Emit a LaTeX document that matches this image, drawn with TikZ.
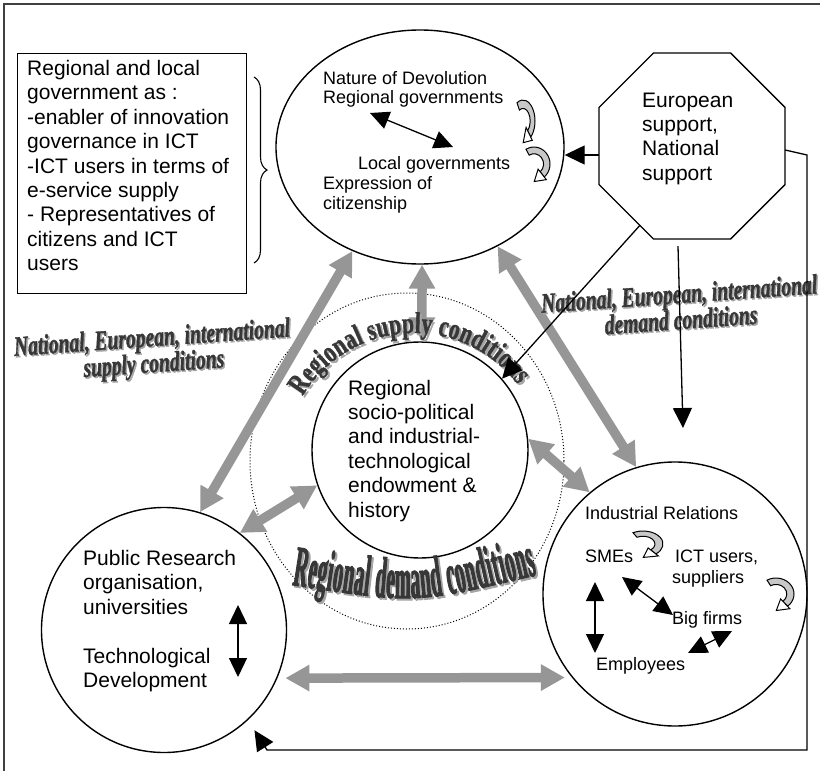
\documentclass[tikz,border=0pt]{standalone}
\usepackage{fontspec}
\setmainfont{Liberation Sans}
\newfontfamily\labelfont[FakeStretch=0.70,FakeBold=1.2]{Liberation Serif}
\newfontfamily\archfont[FakeStretch=0.72,FakeBold=1.2]{Liberation Serif}
\newfontfamily\tallfont[FakeStretch=0.33,FakeBold=1.5]{Liberation Serif}
\usetikzlibrary{arrows.meta,shapes.geometric,decorations.text,decorations.pathreplacing,calc}
\definecolor{flowgray}{RGB}{150,150,150}
\definecolor{curlgray}{RGB}{200,200,200}
\definecolor{artgray}{RGB}{55,55,55}
\definecolor{artshadow}{RGB}{165,165,165}
\newcommand\labelstyle{\labelfont\bfseries\itshape\fontsize{28}{26}\selectfont}
\newcommand\supplystyle{\archfont\bfseries\fontsize{30}{32}\selectfont}
\newcommand\demandstyle{\tallfont\bfseries\fontsize{58}{60}\selectfont}

\tikzset{
  outline/.style={draw, line width=1.4pt, inner sep=0pt},
  bigtxt/.style={inner sep=0pt, anchor=base west, font=\fontsize{21}{24}\selectfont},
  smalltxt/.style={inner sep=0pt, anchor=base west, font=\fontsize{18}{20}\selectfont},
  flow/.style={draw=flowgray, line width=9.5pt,
    {Triangle[length=24pt,width=25pt]}-{Triangle[length=24pt,width=25pt]}},
  link/.style={draw, line width=1.3pt, -{Triangle[length=20pt,width=19pt]}},
  twoway/.style={draw, line width=1.3pt,
    {Triangle[length=19pt,width=18pt]}-{Triangle[length=19pt,width=18pt]}},
  artlabel/.style={rotate=4, align=center, font=\labelstyle, inner sep=0pt},
  curlarrow/.pic={
    \filldraw[fill=curlgray, draw=black, line width=1pt]
      (120:1) arc[start angle=120, end angle=-50, radius=1]
      -- (-50:0.6) arc[start angle=-50, end angle=120, radius=0.6] -- cycle;
    \filldraw[fill=white, draw=black, line width=1pt]
      (0.257,-0.306) -- (0.771,-0.919) -- (0.016,-1.031) -- cycle;
  }
}

\begin{document}
\begin{tikzpicture}[x=1pt, y=1pt]
\useasboundingbox (0,0) rectangle (820,-771);

% page frame (top and left edges)
\draw[line width=1.3pt, black!75] (820,-4) -- (4,-4) -- (4,-771);

% main shapes
\node[draw, ellipse, line width=1pt, dash pattern=on 1pt off 2pt, inner sep=0pt,
      minimum width=314pt, minimum height=336pt] (ring) at (407,-461) {};
\node[outline, minimum width=229pt, minimum height=240pt, anchor=north west] (box) at (17,-53) {};
\node[outline, ellipse, minimum width=288pt, minimum height=234pt] (top) at (420,-147) {};
\node[outline, circle, minimum size=216pt] (mid) at (420,-450) {};
\node[outline, circle, minimum size=245pt] (bl) at (164,-630) {};
\node[outline, circle, minimum size=264pt] (br) at (675,-594) {};

% support octagon: flat sides on all four compass directions
\node[inner sep=0pt, minimum size=186pt] (oct) at (692,-146) {};
\foreach \k in {0,...,7}
  \path (oct.center) ++({22.5+45*\k}:100.66) coordinate (oc\k);
\draw[line width=1.4pt] (oc0) -- (oc1) -- (oc2) -- (oc3) -- (oc4) -- (oc5) -- (oc6) -- (oc7) -- cycle;

% brace next to the text box
\draw[decorate, decoration={brace, amplitude=13pt}, line width=1.1pt] (254,-77) -- (254,-263);

% thick grey interaction arrows
\draw[flow] (top.237) -- (bl.73);
\draw[flow] (top.271) -- (mid.89);
\draw[flow] (top.308) -- (br.107);
\draw[flow] (mid.199) -- (bl.52);
\draw[flow] (mid.6) -- (br.130);
\draw[flow, shorten <=8pt, shorten >=7pt] (bl.337) -- (br.219);

% word-art labels (shadow first)
\node[artlabel, text=artshadow] (suplS) at (154.5,-354) {National, European, international\\supply conditions};
\node[artlabel, text=artgray] (supl) at (153,-352.5) {National, European, international\\supply conditions};
\node[artlabel, text=artshadow] (demlS) at (681.5,-308) {National, European, international\\demand conditions};
\node[artlabel, text=artgray] (deml) at (680,-306.5) {National, European, international\\demand conditions};

\path[decorate, decoration={text along path, text={|\supplystyle|Regional supply conditions},
      text align={fit to path}, text color=artshadow}]
  (304.57,-398.04) arc[start angle=149, end angle=37, radius=130];
\path[decorate, decoration={text along path, text={|\supplystyle|Regional supply conditions},
      text align={fit to path}, text color=artgray}]
  (302.57,-396.04) arc[start angle=149, end angle=37, radius=130];

\path[decorate, decoration={text along path, text={|\demandstyle|Regional demand conditions},
      text align={fit to path}, text color=artshadow}]
  (294,-587) .. controls (417,-606) .. (539,-577);
\path[decorate, decoration={text along path, text={|\demandstyle|Regional demand conditions},
      text align={fit to path}, text color=artgray}]
  (292,-585) .. controls (415,-604) .. (537,-575);

% thin black connectors
\coordinate (octL) at ([yshift=-9pt]oct.west);
\coordinate (octR) at ([yshift=-4pt]oct.east);
\coordinate (octD) at ([xshift=-14pt,yshift=-7pt]oct.south);
\coordinate (octSW) at ($(oc4)!0.75!(oc5)$);
\coordinate (fbA) at (807,-155);
\coordinate (fbB) at (807,-750);
\coordinate (fbC) at (267,-750);
\coordinate (dnB) at (683,-428);
\draw[link] (octL) -- (top.east |- octL);
\draw[link] (octSW) -- (mid.41);
\draw[link] (octD) -- (dnB);
\draw[link, shorten >=12pt] (octR) -- (fbA) -- (fbB) -- (fbC) -- (bl.313);

% text box contents
\foreach \t [count=\i] in {Regional and local, government as :, -enabler of innovation,
  governance in ICT, -ICT users in terms of, e-service supply, - Representatives of,
  citizens and ICT, users}
  \node[bigtxt] (box\i) at (27,{-51.1-24.4*\i}) {\t};

% devolution ellipse
\node[smalltxt] (t1) at (323,-84) {Nature of Devolution};
\node[smalltxt] (t2) at (323,-103) {Regional governments};
\node[smalltxt] (t3) at (358,-169) {Local governments};
\node[smalltxt] (t4) at (323,-189) {Expression of};
\node[smalltxt] (t5) at (323,-209) {citizenship};
\coordinate (rgA) at (370,-113);
\coordinate (rgB) at (453,-147);
\draw[twoway] (rgA) -- (rgB);
\pic[xscale=12, yscale=21] at (523,-121) {curlarrow};
\pic[xscale=16, yscale=17] at (534,-164) {curlarrow};

% support octagon text
\node[bigtxt] (o1) at (642,-107) {European};
\node[bigtxt] (o2) at (642,-131) {support,};
\node[bigtxt] (o3) at (642,-155.5) {National};
\node[bigtxt] (o4) at (642,-180) {support};

% central endowment circle
\node[bigtxt] (m1) at (348,-395) {Regional};
\node[bigtxt] (m2) at (348,-419.4) {socio-political};
\node[bigtxt] (m3) at (348,-443.8) {and industrial-};
\node[bigtxt] (m4) at (348,-468.2) {technological};
\node[bigtxt] (m5) at (348,-492.6) {endowment \&};
\node[bigtxt] (m6) at (348,-517) {history};

% research circle
\node[bigtxt] (r1) at (83,-565.5) {Public Research};
\node[bigtxt] (r2) at (83,-589.9) {organisation,};
\node[bigtxt] (r3) at (83,-614.3) {universities};
\node[bigtxt] (r4) at (83,-663.1) {Technological};
\node[bigtxt] (r5) at (83,-687.5) {Development};
\coordinate (rdA) at (238,-605);
\coordinate (rdB) at (238,-677);
\draw[twoway] (rdA) -- (rdB);

% industry circle
\node[smalltxt] (i1) at (585,-519) {Industrial Relations};
\node[smalltxt] (i2) at (585,-562) {SMEs};
\node[smalltxt] (i3) at (675,-562) {ICT users,};
\node[smalltxt] (i4) at (672,-583) {suppliers};
\node[smalltxt] (i5) at (672,-624) {Big firms};
\node[smalltxt] (i6) at (596,-670) {Employees};
\coordinate (ivA) at (595,-582);
\coordinate (ivB) at (595,-653);
\coordinate (isA) at (622,-577);
\coordinate (isB) at (673,-615);
\coordinate (ieA) at (688,-653);
\coordinate (ieB) at (732,-631);
\draw[twoway] (ivA) -- (ivB);
\draw[twoway] (isA) -- (isB);
\draw[twoway] (ieA) -- (ieB);
\pic[xscale=20, yscale=13] at (643,-544) {curlarrow};
\pic[xscale=18, yscale=16] at (776,-594) {curlarrow};
\end{tikzpicture}
\end{document}
